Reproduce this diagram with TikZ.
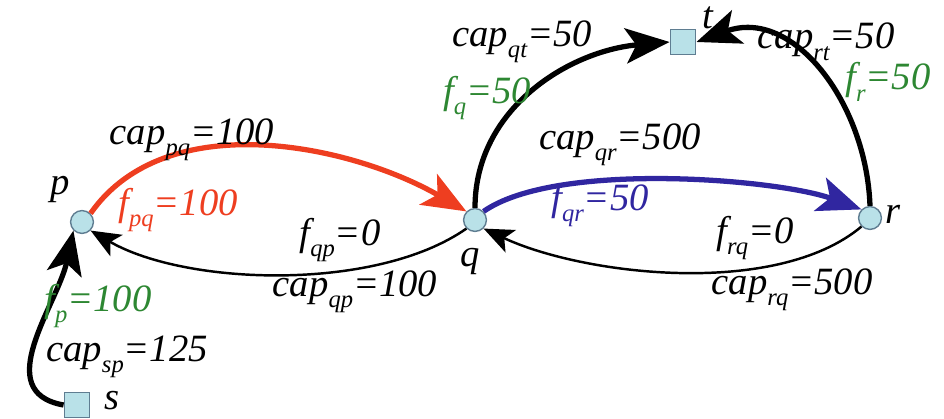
\documentclass[tikz,border=0pt]{standalone}
\usepackage{fontspec}
\setmainfont{LiberationSerif}[Extension=.ttf, UprightFont=*-Regular, ItalicFont=*-Italic, BoldFont=*-Bold]
\usetikzlibrary{arrows.meta}
\newcommand{\lo}[1]{\raisebox{-0.65ex}{\fontsize{14}{14}\selectfont #1}}
\definecolor{vertfill}{RGB}{185,225,232}
\definecolor{vertedge}{RGB}{95,125,145}
\definecolor{flowred}{RGB}{238,62,32}
\definecolor{flowblue}{RGB}{48,38,160}
\definecolor{flowgreen}{RGB}{45,135,50}

\begin{document}
\begin{tikzpicture}[x=0.02cm, y=0.02cm,
    vert/.style={circle, draw=vertedge, fill=vertfill, line width=0.8pt, minimum size=13pt, inner sep=0pt},
    term/.style={rectangle, draw=vertedge, fill=vertfill, line width=0.8pt, minimum size=14.5pt, inner sep=0pt},
    lab/.style={font=\fontsize{22}{26}\selectfont\itshape, inner sep=1pt},
    heavy/.style={line width=3pt, -{Stealth[length=25pt,width=20pt,inset=6pt]}},
    light/.style={line width=1.4pt, -{Stealth[length=17pt,width=14pt,inset=4pt]}}]
    \useasboundingbox (0,0) rectangle (944,419);

    % vertices
    \node[vert] (p) at (82,197) {};
    \node[vert] (q) at (475,199) {};
    \node[vert] (r) at (870,201) {};
    \node[term] (t) at (683,377) {};
    \node[term] (s) at (77,14) {};
    \node[lab] (plbl) at (60,229) {p};
    \node[lab] (qlbl) at (470,157) {q};
    \node[lab] (rlbl) at (893,205) {r};
    \node[lab] (tlbl) at (708,401) {t};
    \node[lab] (slbl) at (112,18) {s};

    % arcs
    \draw[heavy] (s.west) to[out=170, in=258, looseness=1.1] (p.south west);
    \draw[heavy, flowred] (p.north east) to[out=55, in=150, looseness=0.9] (q.north west);
    \draw[light] (q.south west) to[out=215, in=-30, looseness=0.75] (p.south east);
    \draw[heavy, flowblue] (q.north east) to[out=35, in=160, looseness=0.6] (r.north west);
    \draw[light] (r.south west) to[out=220, in=-25, looseness=0.75] (q.south east);
    \draw[heavy] (q.north) to[out=90, in=185] (t.west);
    \draw[heavy] (r.north) to[out=92, in=20, looseness=1.1] (t.east);

    % capacities and flows
    \node[lab] (cappq) at (192,279) {cap\lo{pq}=100};
    \node[lab, flowred] (fpq) at (178,209) {f\lo{pq}=100};
    \node[lab] (fqp) at (340,179) {f\lo{qp}=0};
    \node[lab] (capqp) at (355,127) {cap\lo{qp}=100};
    \node[lab, flowgreen] (fp) at (98,113) {f\lo{p}=100};
    \node[lab] (capsp) at (127,62) {cap\lo{sp}=125};
    \node[lab] (capqt) at (522,377) {cap\lo{qt}=50};
    \node[lab, flowgreen] (fq) at (487,321) {f\lo{q}=50};
    \node[lab] (capqr) at (620,274) {cap\lo{qr}=500};
    \node[lab, flowblue] (fqr) at (600,214) {f\lo{qr}=50};
    \node[lab] (caprt) at (826,377) {cap\lo{rt}=50};
    \node[lab, flowgreen] (fr) at (888,337) {f\lo{r}=50};
    \node[lab] (frq) at (755,181) {f\lo{rq}=0};
    \node[lab] (caprq) at (792,129) {cap\lo{rq}=500};
\end{tikzpicture}
\end{document}
